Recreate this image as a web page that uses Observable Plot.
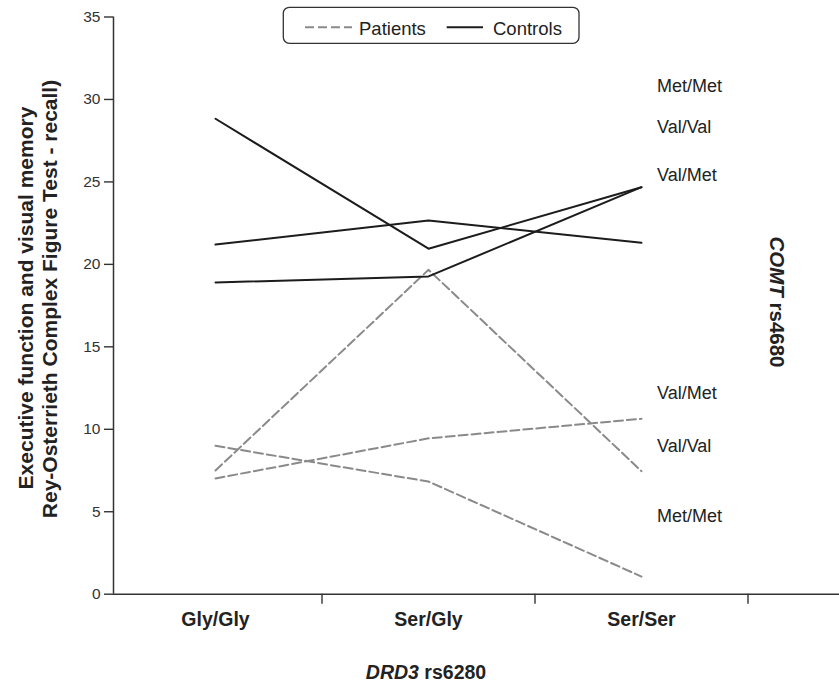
<!DOCTYPE html>
<html><head><meta charset="utf-8">
<script src="https://cdn.jsdelivr.net/npm/d3@7"></script>
<script src="https://cdn.jsdelivr.net/npm/@observablehq/plot@0.6"></script>
<style>
body{margin:0;background:#fff;font-family:"Liberation Sans",Arial,Helvetica,sans-serif;color:#222}
#wrap{position:relative;width:839px;height:686px;overflow:hidden}
#wrap > svg{position:absolute;left:0;top:0}
.abs{position:absolute;white-space:nowrap;line-height:1;font-weight:bold;transform-origin:center center}
</style></head><body><div id="wrap"></div>
<script>
// ---- data ----
const categories = ["Gly/Gly", "Ser/Gly", "Ser/Ser"];
const yTicks = [0, 5, 10, 15, 20, 25, 30, 35];
const groups = ["Patients", "Controls"];
const controlsMetMet = [28.83, 20.95, 24.68];
const controlsValVal = [21.2, 22.66, 21.31];
const controlsValMet = [18.9, 19.27, 24.68];
const patientsValMet = [7.02, 9.45, 10.64];
const patientsValVal = [7.5, 19.67, 7.46];
const patientsMetMet = [9.0, 6.83, 1.07];
const comtLabels = ["Met/Met", "Val/Val", "Val/Met", "Val/Met", "Val/Val", "Met/Met"];
const comtLabelValues = [30.83, 28.34, 25.42, 12.21, 8.96, 4.71];

// ---- build tables ----
function rows(group, genotype, vals) {
  return vals.map((v, i) => ({group, genotype, key: group + genotype, xi: i + 1, value: v}));
}
const controlRows = [
  ...rows("Controls", "Met/Met", controlsMetMet),
  ...rows("Controls", "Val/Val", controlsValVal),
  ...rows("Controls", "Val/Met", controlsValMet)
];
const patientRows = [
  ...rows("Patients", "Val/Met", patientsValMet),
  ...rows("Patients", "Val/Val", patientsValVal),
  ...rows("Patients", "Met/Met", patientsMetMet)
];
const labelRows = comtLabels.map((t, i) => ({label: t, v: comtLabelValues[i], xi: categories.length}));

const xDomain = [0.5211, 3.9296];
const font = '"Liberation Sans", Arial, Helvetica, sans-serif';

const plot = Plot.plot({
  width: 839, height: 686,
  marginTop: 16.5, marginBottom: 92.3, marginLeft: 113, marginRight: 0,
  style: {fontFamily: font, background: "transparent", color: "#222", overflow: "visible"},
  x: {type: "linear", domain: xDomain, axis: null},
  y: {domain: [0, 35], axis: null},
  marks: [
    Plot.axisY({ticks: yTicks, tickSize: 9, tickPadding: 4, fontSize: 15.5, label: null,
      stroke: "#333", strokeWidth: 1.4, fill: "#333"}),
    Plot.axisX({ticks: [1.5, 2.5, 3.5], tickSize: 10, tickFormat: () => "", label: null,
      stroke: "#333", strokeWidth: 1.4}),
    Plot.axisX({ticks: [1, 2, 3], tickSize: 0, tickPadding: 18, label: null,
      tickFormat: i => categories[i - 1], fontSize: 19.5, fontWeight: "bold", fill: "#222"}),
    Plot.ruleX([xDomain[0]], {y1: 0, y2: 35, stroke: "#333", strokeWidth: 1.5}),
    Plot.ruleY([0], {stroke: "#333", strokeWidth: 1.5}),
    Plot.line(patientRows, {x: "xi", y: "value", z: "key", stroke: "#8a8a8a",
      strokeWidth: 2, strokeDasharray: "9,4", curve: "linear"}),
    Plot.line(controlRows, {x: "xi", y: "value", z: "key", stroke: "#1c1c1c",
      strokeWidth: 2, curve: "linear"}),
    Plot.text(labelRows, {x: "xi", y: "v", text: "label", dx: 15.5, textAnchor: "start",
      lineAnchor: "middle", fontSize: 18, fill: "#222"})
  ]
});

const wrap = document.getElementById("wrap");
wrap.appendChild(plot);

// legend (above the plot area)
const leg = d3.create("svg").attr("width", 300).attr("height", 40)
  .style("position", "absolute").style("left", "282px").style("top", "6px")
  .style("font-family", font);
leg.append("rect").attr("x", 1.3).attr("y", 1.3).attr("width", 295.7).attr("height", 36)
  .attr("rx", 6).attr("fill", "#fff").attr("stroke", "#333").attr("stroke-width", 1.3);
const legItems = [
  {label: groups[0], x1: 23, x2: 70, tx: 77, stroke: "#8a8a8a", dash: "9,4"},
  {label: groups[1], x1: 164.7, x2: 201, tx: 211, stroke: "#1c1c1c", dash: null}
];
legItems.forEach(it => {
  const l = leg.append("line").attr("x1", it.x1).attr("x2", it.x2).attr("y1", 21.3).attr("y2", 21.3)
    .attr("stroke", it.stroke).attr("stroke-width", 2);
  if (it.dash) l.attr("stroke-dasharray", it.dash);
  leg.append("text").attr("x", it.tx).attr("y", 22.8).attr("dy", "0.36em")
    .attr("font-size", 18.5).attr("fill", "#222").text(it.label);
});
wrap.appendChild(leg.node());

// axis titles
function title(html, left, top, size, rot) {
  const d = document.createElement("div");
  d.className = "abs";
  d.innerHTML = html;
  d.style.fontSize = size + "px";
  d.style.left = left + "px";
  d.style.top = top + "px";
  d.style.transform = "translate(-50%,-50%) rotate(" + rot + "deg)";
  wrap.appendChild(d);
}
title("Executive function and visual memory", 25, 298, 21, -90);
title("Rey-Osterrieth Complex Figure Test - recall)", 49, 299, 21, -90);
title("<i>COMT</i> rs4680", 776.7, 301.5, 20.5, 90);
title("<i>DRD3</i> rs6280", 426, 673, 19.5, 0);
</script></body></html>
